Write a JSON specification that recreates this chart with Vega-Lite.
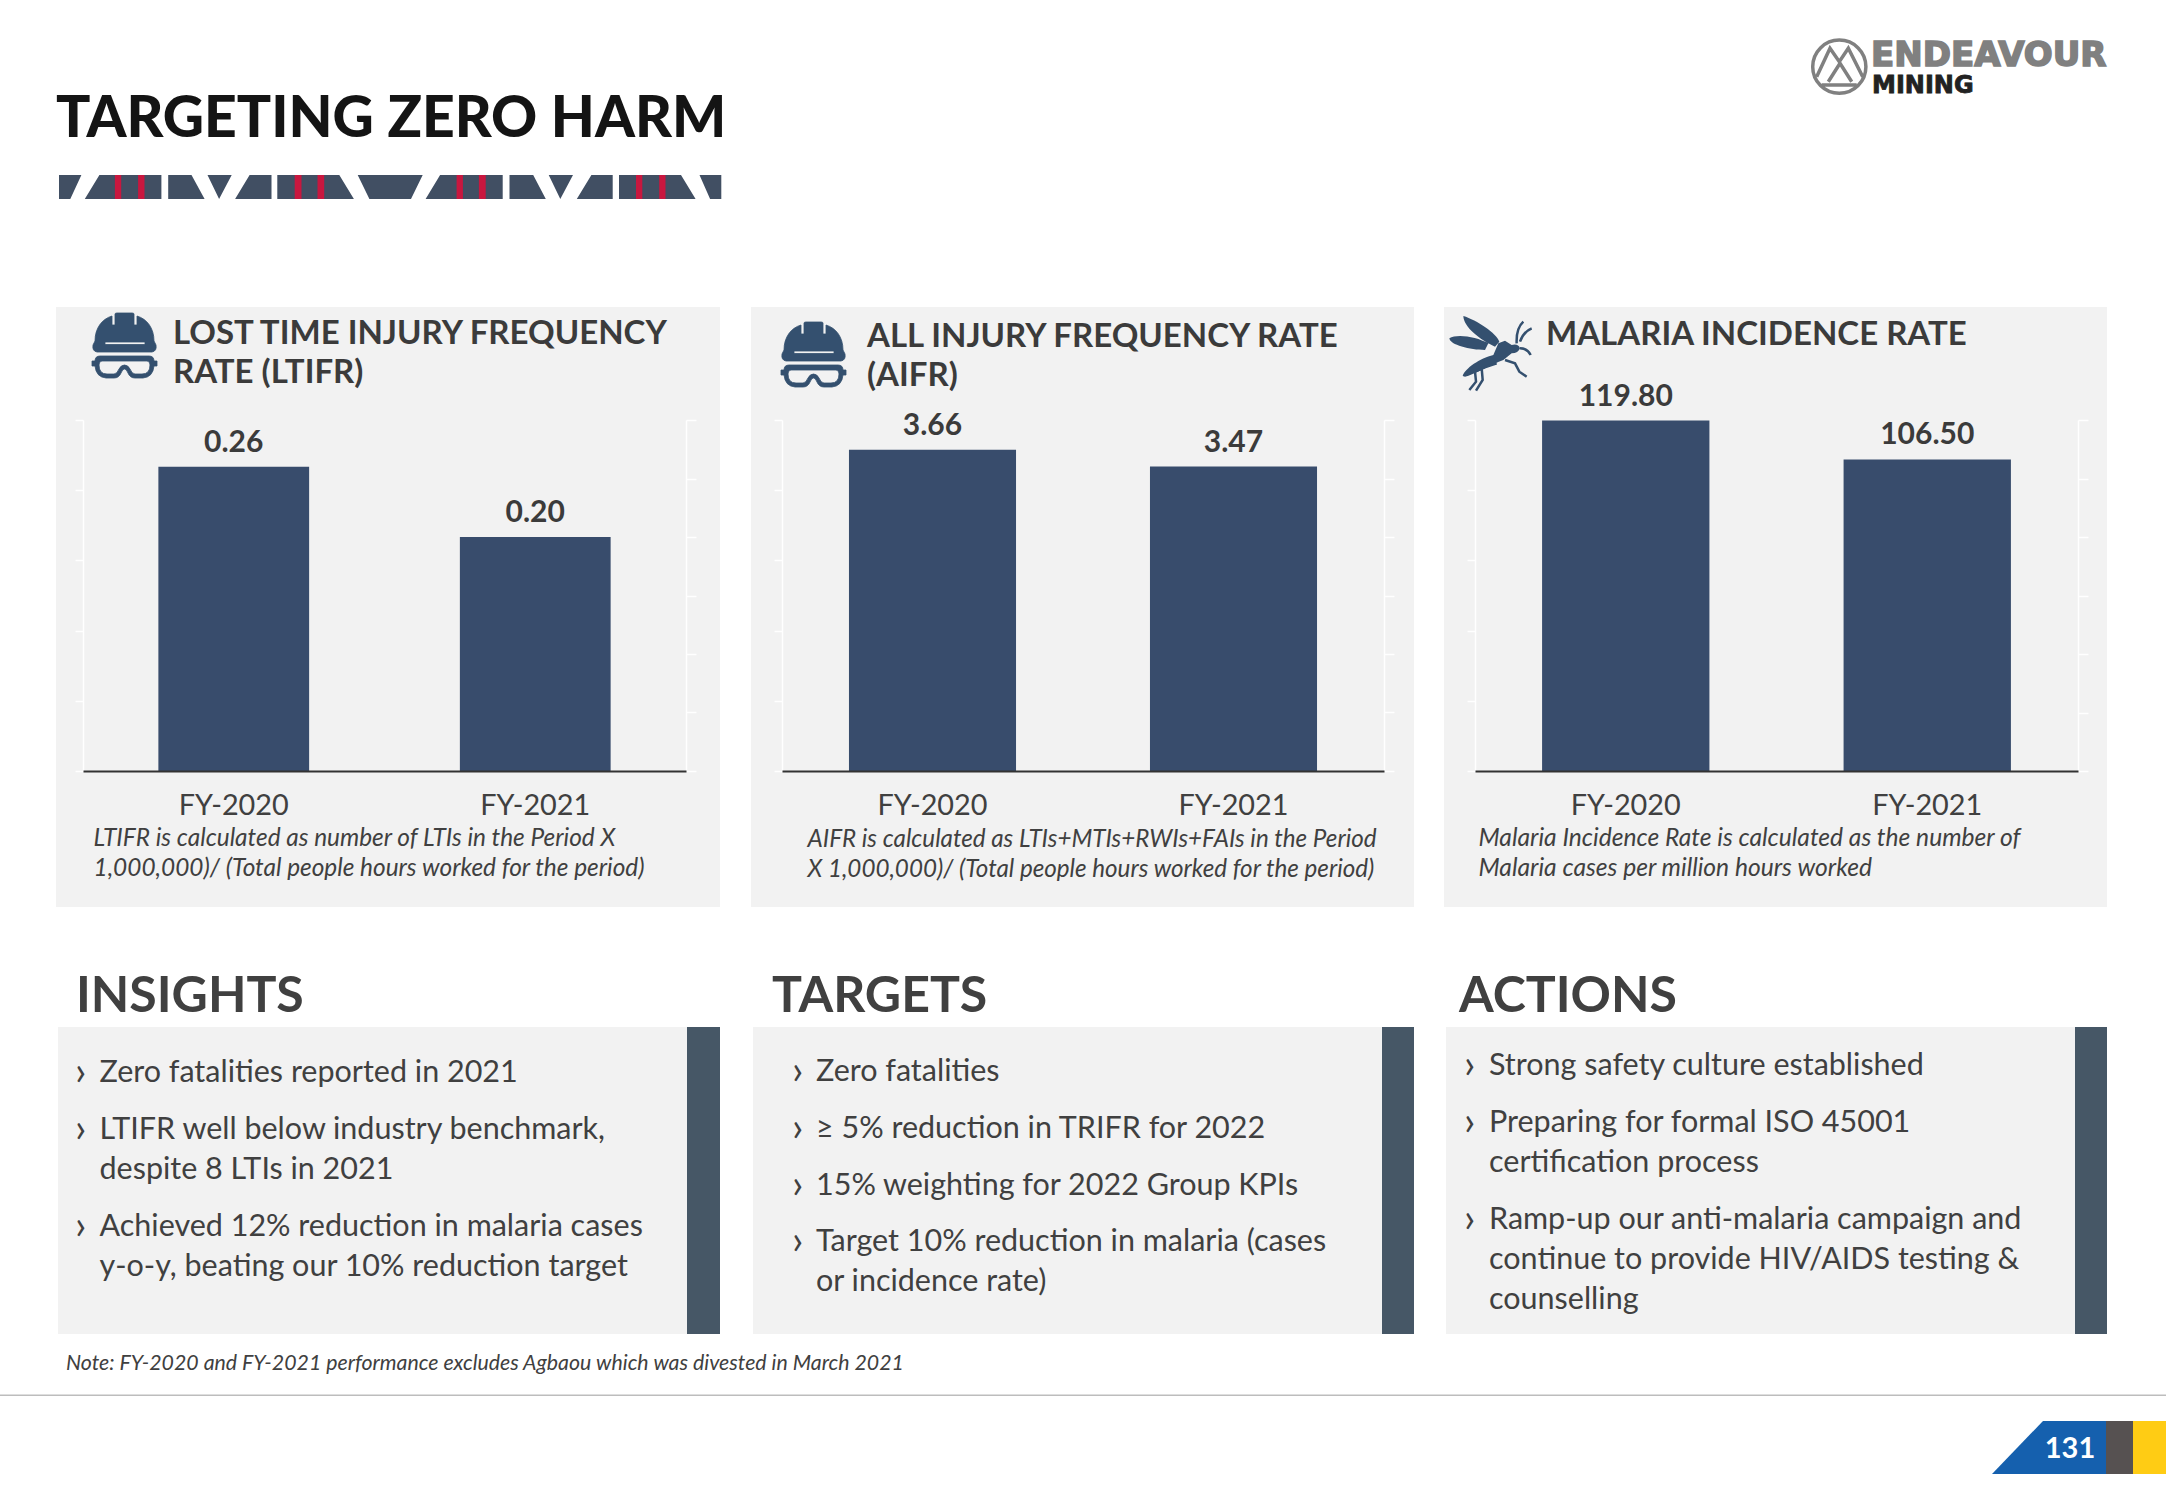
{
"$schema":"https://vega.github.io/schema/vega-lite/v6.json",
"padding":0,
"background":"white",
"spacing":0,
"config":{"font":"Lato","view":{"stroke":null},"axis":{"grid":false},"title":{"font":"Lato"}},
"vconcat":[
{"spacing":0,"bounds":"flush","hconcat":[
{"width":2166,"height":307,
 "title":{"text":"TARGETING ZERO HARM","anchor":"start","frame":"group","dx":56,"offset":-194,"baseline":"alphabetic","fontSize":57,"fontWeight":900,"color":"#141414"},
 "layer":[
 {"data":{"values":[{"decor":"band"}]},"mark":{"type":"point","filled":true,"size":4,"opacity":1,"strokeWidth":0,"color":"#414F63","shape":"M-1024,21.5H-1001.6L-1012.7,45.5H-1024ZM-983.6,21.5H-921.6V45.5H-998.2ZM-914.8,21.5H-891.5L-878.4,45.5H-914.8ZM-875.5,21.5H-851.3L-863.9,45.5ZM-833.4,21.5H-811.5V45.5H-847.9ZM-805.7,21.5H-743.7L-729.1,45.5H-805.7ZM-725.3,21.5H-660.3L-672,45.5H-713.6ZM-642.9,21.5H-580.3V45.5H-657.4ZM-573.5,21.5H-549.8L-537.2,45.5H-573.5ZM-534.3,21.5H-510L-522.7,45.5ZM-491.6,21.5H-470.3V45.5H-506.2ZM-464,21.5H-402L-387.4,45.5H-464ZM-383.5,21.5H-361.7V45.5H-372.9Z"},"encoding":{}},
 {"data":{"values":[{"decor":"stripes"}]},"mark":{"type":"point","filled":true,"size":4,"opacity":1,"strokeWidth":0,"color":"#C8173F","shape":"M-968.1,21.5H-961.8V45.5H-968.1ZM-944.9,21.5H-938.5V45.5H-944.9ZM-788.3,21.5H-781.5V45.5H-788.3ZM-765.5,21.5H-758.8V45.5H-765.5ZM-626.4,21.5H-620.1V45.5H-626.4ZM-604.1,21.5H-597.3V45.5H-604.1ZM-447,21.5H-440.7V45.5H-447ZM-423.8,21.5H-417.5V45.5H-423.8Z"},"encoding":{}},
 {"data":{"values":[{"decor":"logo mark"}]},"mark":{"type":"point","filled":false,"size":4,"opacity":1,"strokeWidth":3.5,"color":"#808080","shape":"M729.7,-86.8a26.6,26.6 0 1,0 53.2,0a26.6,26.6 0 1,0 -53.2,0ZM733.7,-76.8L747,-105.2L756.3,-91.8L765.3,-105.2L779.7,-76.8M745.3,-71.8L757,-90.2L768.7,-71.8M738.7,-68.5H773.7"},"encoding":{}},
 {"data":{"values":[{"logo":"ENDEAVOUR"}]},"mark":{"type":"text","font":"DejaVu Sans","fontWeight":"bold","fontSize":34,"align":"left","baseline":"middle","dx":788,"dy":-98,"color":"#808080","stroke":"#808080","strokeWidth":1.6},"encoding":{"text":{"field":"logo"}}},
 {"data":{"values":[{"logo":"MINING"}]},"mark":{"type":"text","font":"DejaVu Sans","fontWeight":"bold","fontSize":24,"align":"left","baseline":"middle","dx":789,"dy":-67.5,"color":"#222222","stroke":"#222222","strokeWidth":0.8},"encoding":{"text":{"field":"logo"}}}
 ]}
]},
{"spacing":0,"bounds":"flush","hconcat":[
{"width":56,"height":600,"data":{"values":[]},"mark":"text","encoding":{}},
{"width":664,"height":600,"view":{"fill":"#F2F2F2","stroke":null},
 "title":{"text":["LOST TIME INJURY FREQUENCY","RATE (LTIFR)"],"anchor":"start","frame":"group","dx":117,"offset":-108.5,"baseline":"alphabetic","align":"left","lineHeight":39,"fontSize":33,"fontWeight":"bold","color":"#3B3B3B"},
 "data":{"values":[{"metric":"LTIFR","year":"FY-2020","value":0.26},{"metric":"LTIFR","year":"FY-2021","value":0.20}]},
 "resolve":{"axis":{"y":"independent"}},
 "layer":[
 {"mark":{"type":"bar","color":"#384C6C"},
  "encoding":{
   "x":{"field":"year","type":"nominal","scale":{"range":[27,630],"paddingInner":0.5,"paddingOuter":0.25},
    "axis":{"title":["LTIFR is calculated as number of LTIs in the Period X","1,000,000)/ (Total people hours worked for the period)"],"orient":"bottom","offset":-136,"labelAngle":0,"labelFontSize":28.8,"labelColor":"#404040","labelPadding":20,"ticks":false,"domainColor":"#333333","domainWidth":2,"titleFontStyle":"italic","titleFontWeight":"normal","titleFontSize":24.4,"titleColor":"#404040","titleX":37,"titleY":74,"titleAlign":"left","titleAnchor":"start","titleBaseline":"alphabetic","titleLineHeight":30,"zindex":1}},
   "y":{"field":"value","type":"quantitative","scale":{"domain":[0,0.3],"range":[464,113]},
    "axis":{"orient":"left","offset":-27,"title":null,"labels":false,"values":[0,0.06,0.12,0.18,0.24,0.3],"domainColor":"white","domainWidth":1.5,"tickColor":"white","tickWidth":1.5,"tickSize":8}}}},
 {"mark":{"type":"text","font":"Lato","fontWeight":"bold","fontSize":30,"color":"#3B3B3B","baseline":"alphabetic","dy":-15},
  "encoding":{
   "x":{"field":"year","type":"nominal"},
   "y":{"field":"value","type":"quantitative","scale":{"domain":[0,0.3],"range":[464,113]},
    "axis":{"orient":"right","offset":-34,"title":null,"labels":false,"values":[0,0.05,0.1,0.15,0.2,0.25,0.3],"domainColor":"white","domainWidth":1.5,"tickColor":"white","tickWidth":1.5,"tickSize":10}},
   "text":{"field":"value","type":"quantitative","format":".2f"}}},
 {"data":{"values":[{"icon":"helmet"}]},"mark":{"type":"point","filled":true,"size":4,"opacity":1,"strokeWidth":0.8,"color":"#34506F","stroke":"#34506F","shape":"M-293,-266c0,-13 7,-22 17,-25l0,9l3,0l0,-11q0,-1 2,-1l15,0q2,0 2,1l0,11l3,0l0,-9c10,3 17,12 17,25l2,4q1,6 -4,7l-55,0q-5,-1 -4,-7zm10,1l0,2.5l40,0l0,-2.5zm-5,14l49,0q5,0 5,5l3,0l0,5l-3,0q-1,11 -11,12l-8,0q-5,0 -7,-5q-1.5,-4 -3.5,-4q-2,0 -3.5,4q-2,5 -7,5l-8,0q-10,-1 -11,-12l-3,0l0,-5l3,0q0,-5 5,-5zm2,5q-3,0 -3,4q0,9 8,9l7,0q3,0 5,-5q2,-4 5.5,-4q3.5,0 5.5,4q2,5 5,5l7,0q8,0 8,-9q0,-4 -3,-4z"},"encoding":{}}
 ]},
{"width":31,"height":600,"data":{"values":[]},"mark":"text","encoding":{}},
{"width":663,"height":600,"view":{"fill":"#F2F2F2","stroke":null},
 "title":{"text":["ALL INJURY FREQUENCY RATE","(AIFR)"],"anchor":"start","frame":"group","dx":116,"offset":-111.5,"baseline":"alphabetic","align":"left","lineHeight":39,"fontSize":33,"fontWeight":"bold","color":"#3B3B3B"},
 "data":{"values":[{"metric":"AIFR","year":"FY-2020","value":3.66},{"metric":"AIFR","year":"FY-2021","value":3.47}]},
 "resolve":{"axis":{"y":"independent"}},
 "layer":[
 {"mark":{"type":"bar","color":"#384C6C"},
  "encoding":{
   "x":{"field":"year","type":"nominal","scale":{"range":[31,633],"paddingInner":0.445,"paddingOuter":0.2225},
    "axis":{"title":["AIFR is calculated as LTIs+MTIs+RWIs+FAIs in the Period","X 1,000,000)/ (Total people hours worked for the period)"],"orient":"bottom","offset":-136,"labelAngle":0,"labelFontSize":28.8,"labelColor":"#404040","labelPadding":20,"ticks":false,"domainColor":"#333333","domainWidth":2,"titleFontStyle":"italic","titleFontWeight":"normal","titleFontSize":24.2,"titleColor":"#404040","titleX":56,"titleY":75,"titleAlign":"left","titleAnchor":"start","titleBaseline":"alphabetic","titleLineHeight":30,"zindex":1}},
   "y":{"field":"value","type":"quantitative","scale":{"domain":[0,4],"range":[464,113]},
    "axis":{"orient":"left","offset":-31,"title":null,"labels":false,"values":[0,0.8,1.6,2.4,3.2,4],"domainColor":"white","domainWidth":1.5,"tickColor":"white","tickWidth":1.5,"tickSize":8}}}},
 {"mark":{"type":"text","font":"Lato","fontWeight":"bold","fontSize":30,"color":"#3B3B3B","baseline":"alphabetic","dy":-15},
  "encoding":{
   "x":{"field":"year","type":"nominal"},
   "y":{"field":"value","type":"quantitative","scale":{"domain":[0,4],"range":[464,113]},
    "axis":{"orient":"right","offset":-30,"title":null,"labels":false,"values":[0,0.6667,1.3333,2,2.6667,3.3333,4],"domainColor":"white","domainWidth":1.5,"tickColor":"white","tickWidth":1.5,"tickSize":10}},
   "text":{"field":"value","type":"quantitative","format":".2f"}}},
 {"data":{"values":[{"icon":"helmet"}]},"mark":{"type":"point","filled":true,"size":4,"opacity":1,"strokeWidth":0.8,"color":"#34506F","stroke":"#34506F","shape":"M-298.5,-257c0,-13 7,-22 17,-25l0,9l3,0l0,-11q0,-1 2,-1l15,0q2,0 2,1l0,11l3,0l0,-9c10,3 17,12 17,25l2,4q1,6 -4,7l-55,0q-5,-1 -4,-7zm10,1l0,2.5l40,0l0,-2.5zm-5,14l49,0q5,0 5,5l3,0l0,5l-3,0q-1,11 -11,12l-8,0q-5,0 -7,-5q-1.5,-4 -3.5,-4q-2,0 -3.5,4q-2,5 -7,5l-8,0q-10,-1 -11,-12l-3,0l0,-5l3,0q0,-5 5,-5zm2,5q-3,0 -3,4q0,9 8,9l7,0q3,0 5,-5q2,-4 5.5,-4q3.5,0 5.5,4q2,5 5,5l7,0q8,0 8,-9q0,-4 -3,-4z"},"encoding":{}}
 ]},
{"width":30,"height":600,"data":{"values":[]},"mark":"text","encoding":{}},
{"width":663,"height":600,"view":{"fill":"#F2F2F2","stroke":null},
 "title":{"text":"MALARIA INCIDENCE RATE","anchor":"start","frame":"group","dx":102,"offset":-70.5,"baseline":"alphabetic","align":"left","fontSize":33,"fontWeight":"bold","color":"#3B3B3B"},
 "data":{"values":[{"metric":"Malaria","year":"FY-2020","value":119.8},{"metric":"Malaria","year":"FY-2021","value":106.5}]},
 "resolve":{"axis":{"y":"independent"}},
 "layer":[
 {"mark":{"type":"bar","color":"#384C6C"},
  "encoding":{
   "x":{"field":"year","type":"nominal","scale":{"range":[31,634],"paddingInner":0.445,"paddingOuter":0.2225},
    "axis":{"title":["Malaria Incidence Rate is calculated as the number of","Malaria cases per million hours worked"],"orient":"bottom","offset":-136,"labelAngle":0,"labelFontSize":28.8,"labelColor":"#404040","labelPadding":20,"ticks":false,"domainColor":"#333333","domainWidth":2,"titleFontStyle":"italic","titleFontWeight":"normal","titleFontSize":24.6,"titleColor":"#404040","titleX":34,"titleY":74,"titleAlign":"left","titleAnchor":"start","titleBaseline":"alphabetic","titleLineHeight":30,"zindex":1}},
   "y":{"field":"value","type":"quantitative","scale":{"domain":[0,120],"range":[464,113]},
    "axis":{"orient":"left","offset":-31,"title":null,"labels":false,"values":[0,24,48,72,96,120],"domainColor":"white","domainWidth":1.5,"tickColor":"white","tickWidth":1.5,"tickSize":8}}}},
 {"mark":{"type":"text","font":"Lato","fontWeight":"bold","fontSize":30,"color":"#3B3B3B","baseline":"alphabetic","dy":-15},
  "encoding":{
   "x":{"field":"year","type":"nominal"},
   "y":{"field":"value","type":"quantitative","scale":{"domain":[0,120],"range":[464,113]},
    "axis":{"orient":"right","offset":-29,"title":null,"labels":false,"values":[0,20,40,60,80,100,120],"domainColor":"white","domainWidth":1.5,"tickColor":"white","tickWidth":1.5,"tickSize":10}},
   "text":{"field":"value","type":"quantitative","format":".2f"}}},
 {"data":{"values":[{"icon":"mosquito body"}]},"mark":{"type":"point","filled":true,"size":0.4444,"opacity":1,"strokeWidth":0,"color":"#34506F","shape":"M-936.5,-873c40,12 100,52 108,77l-13,15c-45,-20 -95,-60 -95,-92zm-42,67c22,-15 82,-5 117,15l-10,20c-45,0 -105,-15 -107,-35zm40,113c7,-23 52,-53 92,-63l15,-35l20,-8l20,13q20,-5 25,10q-5,15 -25,15l-25,20c-40,15 -90,45 -115,50z"},"encoding":{}},
 {"data":{"values":[{"icon":"mosquito legs"}]},"mark":{"type":"point","filled":false,"size":0.4444,"opacity":1,"strokeWidth":2.5,"color":"#34506F","shape":"M-766.5,-776q22,0 32,20m-42,-35q-2,-45 20,-65m-10,60q10,-30 35,-40m-80,95l30,10l13,25l22,15m-90,-40l-45,15l3,35l-20,32m42,-77l-45,20l3,30l-20,25"},"encoding":{}}
 ]}
]},
{"spacing":0,"bounds":"flush","hconcat":[
{"width":58,"height":120,"data":{"values":[]},"mark":"text","encoding":{}},
{"width":695,"height":120,"title":{"text":"INSIGHTS","anchor":"start","frame":"group","dx":18,"offset":-155,"baseline":"alphabetic","fontSize":50,"fontWeight":"bold","color":"#404040"},"data":{"values":[]},"mark":"text","encoding":{}},
{"width":693,"height":120,"title":{"text":"TARGETS","anchor":"start","frame":"group","dx":19,"offset":-155,"baseline":"alphabetic","fontSize":50,"fontWeight":"bold","color":"#404040"},"data":{"values":[]},"mark":"text","encoding":{}},
{"width":629,"height":120,"title":{"text":"ACTIONS","anchor":"start","frame":"group","dx":13,"offset":-155,"baseline":"alphabetic","fontSize":50,"fontWeight":"bold","color":"#404040"},"data":{"values":[]},"mark":"text","encoding":{}}
]},
{"spacing":0,"bounds":"flush","hconcat":[
{"width":58,"height":307,"data":{"values":[]},"mark":"text","encoding":{}},
{"width":629,"height":307,"view":{"fill":"#F2F2F2","stroke":null},
 "data":{"values":[
  {"col":"bullet","line":0,"text":"›"},{"col":"text","line":0,"text":"Zero fatalities reported in 2021"},
  {"col":"bullet","line":1.42,"text":"›"},{"col":"text","line":1.42,"text":"LTIFR well below industry benchmark,"},
  {"col":"text","line":2.42,"text":"despite 8 LTIs in 2021"},
  {"col":"bullet","line":3.84,"text":"›"},{"col":"text","line":3.84,"text":"Achieved 12% reduction in malaria cases"},
  {"col":"text","line":4.84,"text":"y-o-y, beating our 10% reduction target"}]},
 "mark":{"type":"text","font":"Lato","color":"#404040","align":"left","baseline":"middle"},
 "encoding":{
  "x":{"field":"col","type":"nominal","axis":null,"scale":{"type":"point","domain":["bullet","text"],"range":[17,41.5],"padding":0}},
  "y":{"field":"line","type":"quantitative","axis":null,"scale":{"domain":[0,10],"range":[46,446]}},
  "size":{"condition":{"test":"datum.col==='bullet'","value":40},"value":30.5},
  "text":{"field":"text"}}},
{"width":33,"height":307,"view":{"fill":"#465766","stroke":null},"data":{"values":[]},"mark":"text","encoding":{}},
{"width":33,"height":307,"data":{"values":[]},"mark":"text","encoding":{}},
{"width":629,"height":307,"view":{"fill":"#F2F2F2","stroke":null},
 "data":{"values":[
  {"col":"bullet","line":0,"text":"›"},{"col":"text","line":0,"text":"Zero fatalities"},
  {"col":"bullet","line":1.42,"text":"›"},{"col":"text","line":1.42,"text":"≥ 5% reduction in TRIFR for 2022"},
  {"col":"bullet","line":2.84,"text":"›"},{"col":"text","line":2.84,"text":"15% weighting for 2022 Group KPIs"},
  {"col":"bullet","line":4.26,"text":"›"},{"col":"text","line":4.26,"text":"Target 10% reduction in malaria (cases"},
  {"col":"text","line":5.26,"text":"or incidence rate)"}]},
 "mark":{"type":"text","font":"Lato","color":"#404040","align":"left","baseline":"middle"},
 "encoding":{
  "x":{"field":"col","type":"nominal","axis":null,"scale":{"type":"point","domain":["bullet","text"],"range":[39,63],"padding":0}},
  "y":{"field":"line","type":"quantitative","axis":null,"scale":{"domain":[0,10],"range":[45,445]}},
  "size":{"condition":{"test":"datum.col==='bullet'","value":40},"value":30.5},
  "text":{"field":"text"}}},
{"width":32,"height":307,"view":{"fill":"#465766","stroke":null},"data":{"values":[]},"mark":"text","encoding":{}},
{"width":32,"height":307,"data":{"values":[]},"mark":"text","encoding":{}},
{"width":629,"height":307,"view":{"fill":"#F2F2F2","stroke":null},
 "data":{"values":[
  {"col":"bullet","line":0,"text":"›"},{"col":"text","line":0,"text":"Strong safety culture established"},
  {"col":"bullet","line":1.42,"text":"›"},{"col":"text","line":1.42,"text":"Preparing for formal ISO 45001"},
  {"col":"text","line":2.42,"text":"certification process"},
  {"col":"bullet","line":3.84,"text":"›"},{"col":"text","line":3.84,"text":"Ramp-up our anti-malaria campaign and"},
  {"col":"text","line":4.84,"text":"continue to provide HIV/AIDS testing &"},
  {"col":"text","line":5.84,"text":"counselling"}]},
 "mark":{"type":"text","font":"Lato","color":"#404040","align":"left","baseline":"middle"},
 "encoding":{
  "x":{"field":"col","type":"nominal","axis":null,"scale":{"type":"point","domain":["bullet","text"],"range":[18,43],"padding":0}},
  "y":{"field":"line","type":"quantitative","axis":null,"scale":{"domain":[0,10],"range":[39,439]}},
  "size":{"condition":{"test":"datum.col==='bullet'","value":40},"value":30.5},
  "text":{"field":"text"}}},
{"width":32,"height":307,"view":{"fill":"#465766","stroke":null},"data":{"values":[]},"mark":"text","encoding":{}}
]},
{"width":2166,"height":166,
 "title":{"text":"Note: FY-2020 and FY-2021 performance excludes Agbaou which was divested in March 2021","anchor":"start","frame":"group","dx":66,"offset":-57,"baseline":"alphabetic","fontSize":21.3,"fontStyle":"italic","fontWeight":"normal","color":"#404040"},
 "layer":[
 {"data":{"values":[{"decor":"footer rule"}]},"mark":{"type":"point","filled":true,"size":4,"opacity":1,"strokeWidth":0,"color":"#BDBDBD","shape":"M-1083,-22.5H1083V-21H-1083Z"},"encoding":{}},
 {"data":{"values":[{"decor":"tab"}]},"mark":{"type":"point","filled":true,"size":4,"opacity":1,"strokeWidth":0,"color":"#1560AE","shape":"M909,57L960,4H1023V57Z"},"encoding":{}},
 {"data":{"values":[{"decor":"tab grey"}]},"mark":{"type":"point","filled":true,"size":4,"opacity":1,"strokeWidth":0,"color":"#565151","shape":"M1023,4H1050V57H1023Z"},"encoding":{}},
 {"data":{"values":[{"decor":"tab yellow"}]},"mark":{"type":"point","filled":true,"size":4,"opacity":1,"strokeWidth":0,"color":"#FFCC14","shape":"M1050,4H1083V57H1050Z"},"encoding":{}},
 {"data":{"values":[{"page":131}]},"mark":{"type":"text","font":"Lato","fontWeight":"bold","fontSize":29,"color":"white","align":"center","baseline":"middle","dx":987,"dy":32},"encoding":{"text":{"field":"page"}}}
 ]}
]
}
